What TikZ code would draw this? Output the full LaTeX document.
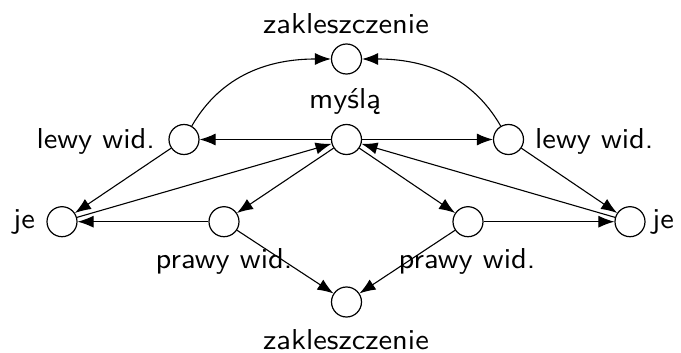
\documentclass[tikz,border=0pt]{standalone}
\usetikzlibrary{arrows.meta}
\newcommand{\lbltxt}[1]{\scalebox{3.05}[2.88]{\fontsize{10}{12}\selectfont\sffamily #1}}
\begin{document}
\begin{tikzpicture}[x=1pt,y=-1pt,
  st/.style={circle,draw,line width=1.2pt,minimum size=30pt,inner sep=0pt},
  lbl/.style={inner sep=0pt},
  arr/.style={-{Latex[length=16pt,width=12pt]},line width=1.1pt}]
\useasboundingbox (0,0) rectangle (681,353);
\node[st] (top) at (346.5,59) {};
\node[st] (m) at (346.5,139.5) {};
\node[st] (ll) at (184,139.5) {};
\node[st] (rl) at (508.5,139.5) {};
\node[st] (jl) at (62,221.7) {};
\node[st] (jr) at (630,221.7) {};
\node[st] (lp) at (224,221.7) {};
\node[st] (rp) at (468,221.7) {};
\node[st] (bot) at (346.5,302) {};
\node[lbl,anchor=base] (ttop) at (346,33.3) {\lbltxt{zakleszczenie}};
\node[lbl,anchor=base] (tm) at (345,108.3) {\lbltxt{myślą}};
\node[lbl,anchor=base east] (tll) at (155,148.3) {\lbltxt{lewy wid.}};
\node[lbl,anchor=base west] (trl) at (535,148.3) {\lbltxt{lewy wid.}};
\node[lbl,anchor=base east] (tjl) at (35,228) {\lbltxt{je}};
\node[lbl,anchor=base west] (tjr) at (652,228) {\lbltxt{je}};
\node[lbl,anchor=base] (tlp) at (224,268.5) {\lbltxt{prawy wid.}};
\node[lbl,anchor=base] (trp) at (467,268.5) {\lbltxt{prawy wid.}};
\node[lbl,anchor=base] (tbot) at (346,349) {\lbltxt{zakleszczenie}};
\draw[arr] (ll) to[out=60,in=180] (top);
\draw[arr] (rl) to[out=120,in=0] (top);
\draw[arr] (m) -- (ll);
\draw[arr] (m) -- (rl);
\draw[arr] (ll) -- (jl);
\draw[arr] (rl) -- (jr);
\draw[arr] (jl) -- (m);
\draw[arr] (jr) -- (m);
\draw[arr] (m) -- (lp);
\draw[arr] (m) -- (rp);
\draw[arr] (lp) -- (jl);
\draw[arr] (rp) -- (jr);
\draw[arr] (lp) -- (bot);
\draw[arr] (rp) -- (bot);
\end{tikzpicture}
\end{document}
